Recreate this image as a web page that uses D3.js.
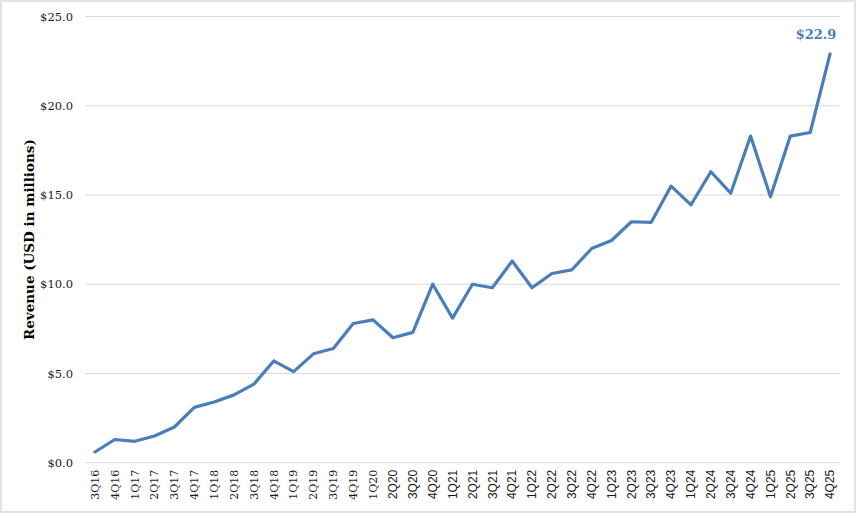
<!DOCTYPE html>
<html>
<head>
<meta charset="utf-8">
<script src="https://cdn.jsdelivr.net/npm/d3@7"></script>
<style>
  html, body { margin: 0; padding: 0; background: #fff; }
  svg { display: block; }
</style>
</head>
<body>
<svg id="chart" width="860" height="518"></svg>
<script>
const quarters = ["3Q16","4Q16","1Q17","2Q17","3Q17","4Q17","1Q18","2Q18","3Q18","4Q18",
  "1Q19","2Q19","3Q19","4Q19","1Q20","2Q20","3Q20","4Q20","1Q21","2Q21","3Q21","4Q21",
  "1Q22","2Q22","3Q22","4Q22","1Q23","2Q23","3Q23","4Q23","1Q24","2Q24","3Q24","4Q24",
  "1Q25","2Q25","3Q25","4Q25"];
const revenue = [0.6,1.3,1.2,1.5,2.0,3.1,3.4,3.8,4.4,5.7,
  5.1,6.1,6.4,7.8,8.0,7.0,7.3,10.0,8.1,10.0,9.8,11.3,
  9.8,10.6,10.8,12.0,12.45,13.5,13.47,15.5,14.45,16.3,15.1,18.3,
  14.9,18.3,18.5,22.9];
const yTicks = [0, 5, 10, 15, 20, 25];
const yTitle = "Revenue (USD in millions)";
const lastLabel = "$22.9";

(function () {
const svg = d3.select("#chart");
const mLeft = 85, mRight = 840, mTop = 16.5, mBottom = 462.7;

svg.append("rect").attr("x", 1).attr("y", 1).attr("width", 854).attr("height", 511)
  .attr("fill", "#fff").attr("stroke", "#d9d9d9").attr("stroke-width", 1.5);

const x = d3.scaleBand().domain(quarters).range([mLeft, mRight]);
const y = d3.scaleLinear().domain([0, 25]).range([mBottom, mTop]);

// gridlines
svg.append("g").selectAll("line").data(yTicks).join("line")
  .attr("x1", mLeft).attr("x2", mRight)
  .attr("y1", d => y(d)).attr("y2", d => y(d))
  .attr("stroke", "#d9d9d9").attr("stroke-width", 1);

// y axis
const yAxis = svg.append("g").attr("transform", `translate(${mLeft},0)`)
  .call(d3.axisLeft(y).tickValues(yTicks).tickSize(0).tickPadding(12)
    .tickFormat(d => "$" + d3.format(".1f")(d)));
yAxis.select(".domain").remove();
yAxis.selectAll("text").attr("font-family", "'DejaVu Serif', Georgia, serif")
  .attr("font-size", "11.5px").attr("fill", "#1a1a1a");

// x axis
const xAxis = svg.append("g").attr("transform", `translate(0,${mBottom})`)
  .call(d3.axisBottom(x).tickSize(0).tickPadding(0));
xAxis.select(".domain").remove();
xAxis.selectAll("text")
  .attr("transform", "rotate(-90)")
  .attr("text-anchor", "end")
  .attr("dy", "0.35em")
  .attr("x", -7).attr("y", 0)
  .attr("font-family", (d, i) => i <= 14 ? "'DejaVu Serif', Georgia, serif" : "'Liberation Sans', Arial, sans-serif")
  .attr("font-size", (d, i) => i <= 14 ? "11px" : "12px")
  .attr("fill", "#1a1a1a");

// line
const line = d3.line().x((d, i) => x(quarters[i]) + x.bandwidth() / 2).y(d => y(d));
svg.append("path").datum(revenue)
  .attr("d", line).attr("fill", "none")
  .attr("stroke", "#4a7ebb").attr("stroke-width", 3.2)
  .attr("stroke-linejoin", "round").attr("stroke-linecap", "round");

// last label
const li = revenue.length - 1;
svg.append("text")
  .attr("x", x(quarters[li]) + x.bandwidth() / 2 - 14)
  .attr("y", y(revenue[li]) - 15)
  .attr("text-anchor", "middle")
  .attr("font-family", "'DejaVu Serif', Georgia, serif")
  .attr("font-weight", "bold").attr("font-size", "13px")
  .attr("fill", "#4a7ebb").text(lastLabel);

// y title
svg.append("text")
  .attr("transform", `translate(34,${(mTop + mBottom) / 2}) rotate(-90)`)
  .attr("text-anchor", "middle")
  .attr("font-family", "'DejaVu Serif', Georgia, serif")
  .attr("font-weight", "bold").attr("font-size", "13.5px")
  .attr("fill", "#000").text(yTitle);
})();
</script>
</body>
</html>
